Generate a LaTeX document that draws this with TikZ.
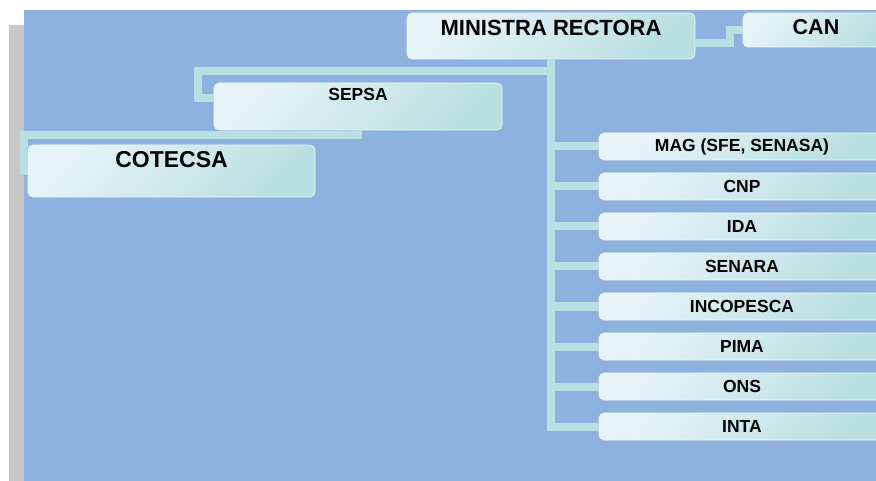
\documentclass[tikz,border=0pt]{standalone}
\usepackage{fontspec}
\setmainfont{Liberation Sans}
\definecolor{panelblue}{HTML}{8EB2DF}
\definecolor{shadowgray}{HTML}{C8C8C8}
\definecolor{linkteal}{HTML}{B8DFE2}
\definecolor{boxlight}{HTML}{E6F4F8}
\definecolor{boxdark}{HTML}{BADFE1}
\begin{document}
\begin{tikzpicture}[x=1pt,y=-1pt,
	box/.style={rectangle, rounded corners=5pt, inner sep=0pt, draw=boxlight!60!white, line width=0.6pt,
		shade, top color=boxlight, bottom color=boxdark, shading angle=45},
	unit/.style={box, minimum width=286pt, minimum height=27pt, font=\fontsize{17.5pt}{19pt}\selectfont\bfseries},
	link/.style={draw=linkteal, line width=8pt},
	fs/.style={inner sep=0pt, font=\fontsize{#1pt}{#1pt}\selectfont\bfseries}]
	\useasboundingbox (0,0) rectangle (876,481);
	\clip (0,0) rectangle (876,481);
	\fill[white] (0,0) rectangle (876,481);
	\fill[shadowgray] (8.5,25) rectangle (24,481);
	\fill[panelblue] (24,10) rectangle (876,481);
	% boxes
	\node[box, minimum width=288pt, minimum height=46pt] (min) at (551,36) {};
	\node[fs=22] (min-t) at (551,28) {MINISTRA RECTORA};
	\node[box, minimum width=146pt, minimum height=34pt] (can) at (816,30) {};
	\node[fs=21.5] (can-t) at (816,27.5) {CAN};
	\node[box, minimum width=288pt, minimum height=47pt] (sepsa) at (358,106.5) {};
	\node[fs=17.5] (sepsa-t) at (358,94.5) {SEPSA};
	\node[box, minimum width=287pt, minimum height=52pt] (cot) at (171.5,171) {};
	\node[fs=23] (cot-t) at (171.5,160) {COTECSA};
	\foreach \name/\txt [count=\i from 0] in {mag/{MAG (SFE, SENASA)}, cnp/CNP, ida/IDA, senara/SENARA,
		incopesca/INCOPESCA, pima/PIMA, ons/ONS, inta/INTA}
		\node[unit] (\name) at (742,{146.5+40*\i}) {\txt};
	% connectors
	\draw[link] ([yshift=-7pt]min.east) -| ([xshift=-13pt]can.west) -- (can.west);
	\draw[link] (min.south) |- (inta.west);
	\foreach \name in {mag,cnp,ida,senara,incopesca,pima,ons}
		\draw[link] (min.south |- \name.west) -- (\name.west);
	\draw[link] ([yshift=-12pt]min.south) -| ([xshift=-16pt,yshift=8.5pt]sepsa.west) -- ([yshift=8.5pt]sepsa.west);
	\draw[link] (sepsa.south) -- ([yshift=-5pt]sepsa.south) -| ([xshift=-3.5pt]cot.west) -- (cot.west);
\end{tikzpicture}
\end{document}
